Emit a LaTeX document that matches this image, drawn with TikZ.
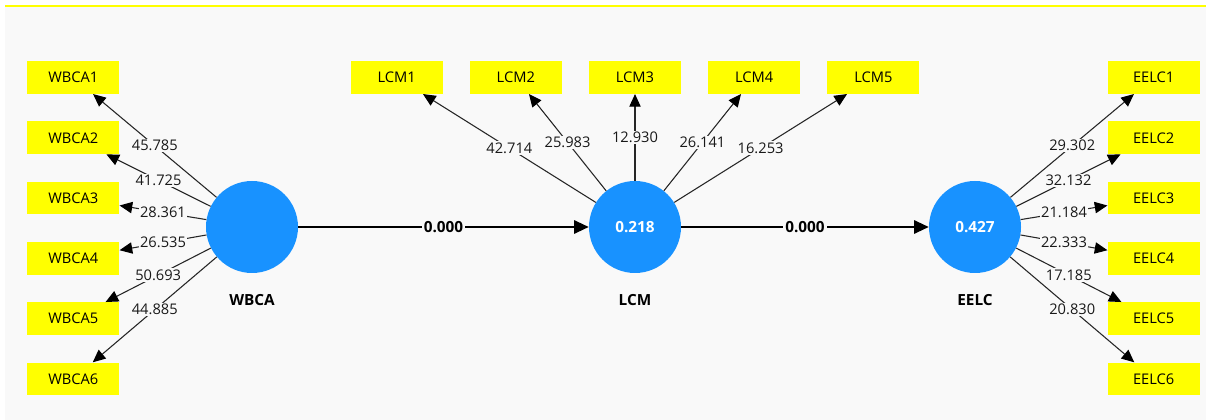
\documentclass[tikz,border=0pt]{standalone}
\usepackage{fontspec}
\setmainfont{Open Sans}
\usepackage{xcolor}
\usetikzlibrary{arrows.meta,positioning}
\definecolor{lvblue}{RGB}{24,146,255}
\definecolor{mvyellow}{RGB}{255,255,0}
\definecolor{canvas}{RGB}{249,249,249}

\begin{document}
\begin{tikzpicture}[
  x=0.75pt, y=-0.75pt,
  node distance=20.4pt and 20pt,
  lv/.style={circle, fill=lvblue, minimum size=69pt, inner sep=0pt, text=white, font=\fontsize{11.5}{13}\selectfont\bfseries},
  mv/.style={fill=mvyellow, minimum width=69pt, minimum height=24.4pt, inner sep=0pt, font=\fontsize{11}{13}\selectfont},
  lvname/.style={inner sep=0pt, font=\fontsize{11.5}{13}\selectfont\bfseries},
  load/.style={-{Triangle[length=9.5pt, width=8.5pt, color=black]}, line width=0.8pt, draw=black!85},
  inner/.style={-{Triangle[length=11pt, width=10pt]}, line width=1.5pt},
  wt/.style={fill=canvas, inner sep=1pt, text=black!90, font=\fontsize{11}{13}\selectfont},
  coef/.style={fill=canvas, inner sep=1.5pt, font=\fontsize{11.5}{13}\selectfont\bfseries}]
  % canvas
  \useasboundingbox (0,0) rectangle (1206,420);
  \fill[white] (0,0) rectangle (1206,420);
  \fill[canvas] (5,7) rectangle (1206,420);
  \draw[mvyellow, line width=1pt] (5,6) -- (1206,6);
  % constructs
  \node[lv] (wbca) at (252,227) {};
  \node[lv] (lcm) at (635,227) {0.218};
  \node[lv] (eelc) at (975,227) {0.427};
  \node[lvname, below=16pt of wbca] (wbcaname) {WBCA};
  \node[lvname, below=16pt of lcm] (lcmname) {LCM};
  \node[lvname, below=16pt of eelc] (eelcname) {EELC};
  % indicators
  \node[mv] (wbca1) at (73.3,77.5) {WBCA1};
  \node[mv, below=of wbca1] (wbca2) {WBCA2};
  \node[mv, below=of wbca2] (wbca3) {WBCA3};
  \node[mv, below=of wbca3] (wbca4) {WBCA4};
  \node[mv, below=of wbca4] (wbca5) {WBCA5};
  \node[mv, below=of wbca5] (wbca6) {WBCA6};
  \node[mv] (lcm3) at (635,77.5) {LCM3};
  \node[mv, left=of lcm3] (lcm2) {LCM2};
  \node[mv, left=of lcm2] (lcm1) {LCM1};
  \node[mv, right=of lcm3] (lcm4) {LCM4};
  \node[mv, right=of lcm4] (lcm5) {LCM5};
  \node[mv] (eelc1) at (1153.7,77.5) {EELC1};
  \node[mv, below=of eelc1] (eelc2) {EELC2};
  \node[mv, below=of eelc2] (eelc3) {EELC3};
  \node[mv, below=of eelc3] (eelc4) {EELC4};
  \node[mv, below=of eelc4] (eelc5) {EELC5};
  \node[mv, below=of eelc5] (eelc6) {EELC6};
  % outer loadings
  \draw[load] (wbca) -- node[wt] {45.785} (wbca1);
  \draw[load] (wbca) -- node[wt] {41.725} (wbca2);
  \draw[load] (wbca) -- node[wt] {28.361} (wbca3);
  \draw[load] (wbca) -- node[wt] {26.535} (wbca4);
  \draw[load] (wbca) -- node[wt] {50.693} (wbca5);
  \draw[load] (wbca) -- node[wt] {44.885} (wbca6);
  \draw[load] (lcm) -- node[wt] {42.714} (lcm1);
  \draw[load] (lcm) -- node[wt] {25.983} (lcm2);
  \draw[load] (lcm) -- node[wt] {12.930} (lcm3);
  \draw[load] (lcm) -- node[wt] {26.141} (lcm4);
  \draw[load] (lcm) -- node[wt] {16.253} (lcm5);
  \draw[load] (eelc) -- node[wt] {29.302} (eelc1);
  \draw[load] (eelc) -- node[wt] {32.132} (eelc2);
  \draw[load] (eelc) -- node[wt] {21.184} (eelc3);
  \draw[load] (eelc) -- node[wt] {22.333} (eelc4);
  \draw[load] (eelc) -- node[wt] {17.185} (eelc5);
  \draw[load] (eelc) -- node[wt] {20.830} (eelc6);
  % structural paths
  \draw[inner] (wbca) -- node[coef] {0.000} (lcm);
  \draw[inner] (lcm) -- node[coef] {0.000} (eelc);
\end{tikzpicture}
\end{document}
